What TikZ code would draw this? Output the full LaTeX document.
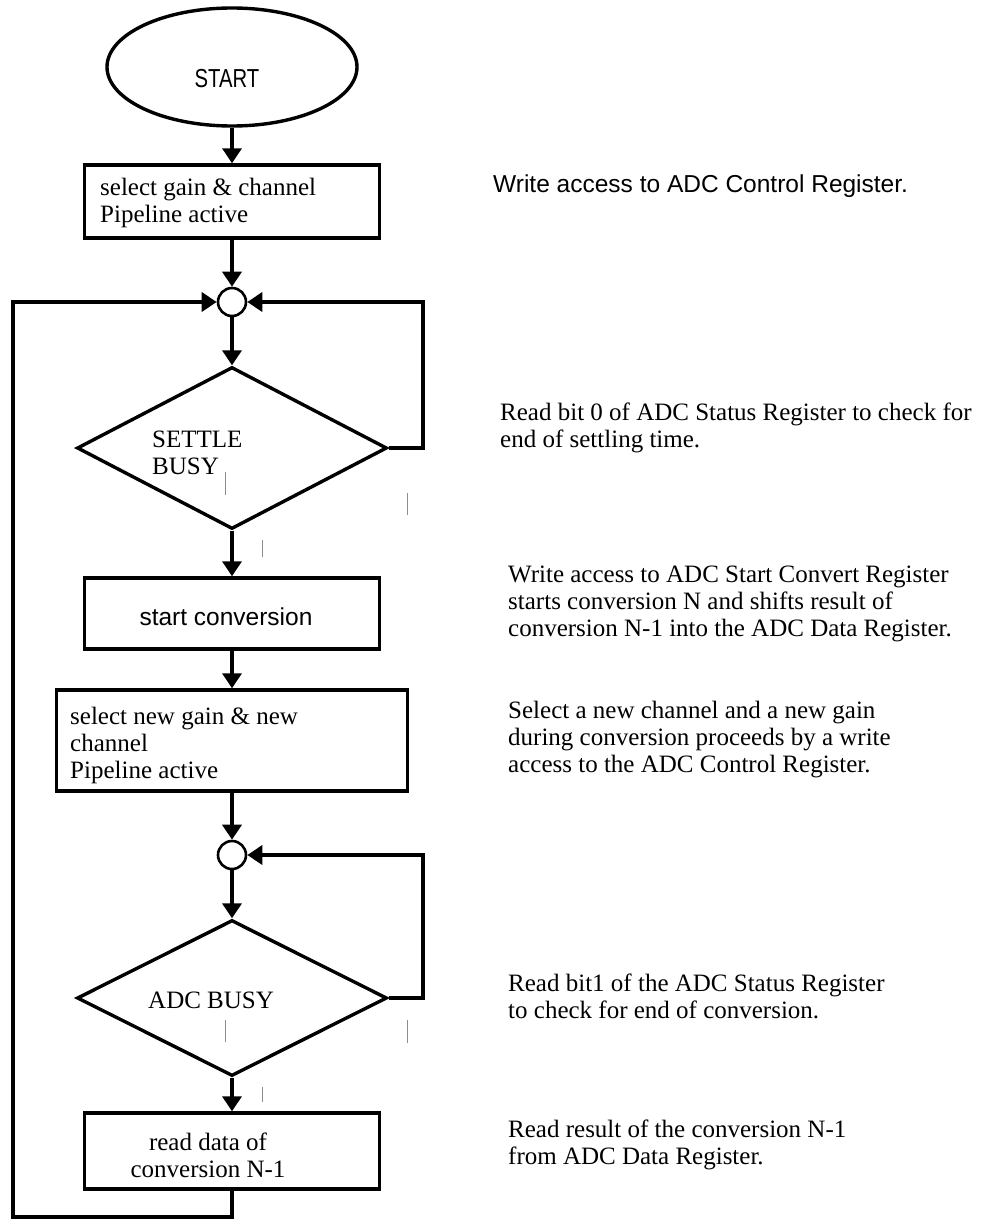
\documentclass[tikz,border=0pt]{standalone}
\usepackage{fontspec}
\setmainfont{Liberation Serif}
\setsansfont{Liberation Sans}
\usetikzlibrary{shapes.geometric,arrows.meta}
\tikzset{
  shp/.style={draw=black, line width=3.4pt, inner sep=0pt},
  boxnode/.style={shp, rectangle},
  dianode/.style={shp, diamond},
  junc/.style={draw=black, line width=2.6pt, circle, inner sep=0pt, minimum size=28pt, fill=white},
  arr/.style={line width=3.4pt, -{Triangle[length=15pt,width=19pt]}},
  txt/.style={inner sep=0pt, font=\fontsize{25}{26.7}\selectfont, align=left},
  stxt/.style={inner sep=0pt, font=\sffamily\fontsize{24.5}{26.5}\selectfont},
  tick/.style={draw=black!45, line width=0.8pt}
}
\begin{document}
\begin{tikzpicture}[x=1pt,y=-1pt]
\useasboundingbox (0,0) rectangle (994,1220);
% shapes
\node[shp, ellipse, minimum width=250pt, minimum height=118pt] (start) at (232,67) {};
\node[stxt, anchor=base, font=\sffamily\fontsize{26}{28}\selectfont, xscale=0.78] (starttxt) at (227,88) {START};
\node[boxnode, minimum width=295pt, minimum height=73pt] (b1) at (232,201.5) {};
\node[txt, anchor=base west] (b1t) at (100,222) {select gain \& channel\\Pipeline active};
\node[junc] (c1) at (232,302) {};
\node[dianode, minimum width=310pt, minimum height=162pt] (d1) at (232,448) {};
\node[txt, anchor=base west] (d1t) at (152,474) {SETTLE\\BUSY};
\node[boxnode, minimum width=295pt, minimum height=71pt] (b2) at (232,613.5) {};
\node[stxt, anchor=base] (b2t) at (226,625) {start conversion};
\node[boxnode, minimum width=351pt, minimum height=101pt] (b3) at (232,740.5) {};
\node[txt, anchor=base west] (b3t) at (70,778) {select new gain \& new\\channel\\Pipeline active};
\node[junc] (c2) at (232,855) {};
\node[dianode, minimum width=310pt, minimum height=156pt] (d2) at (232,998) {};
\node[txt, anchor=base west] (d2t) at (148,1008) {ADC BUSY};
\node[boxnode, minimum width=295pt, minimum height=76pt] (b4) at (232,1151) {};
\node[txt, anchor=base, align=center] (b4t) at (208,1177) {read data of\\conversion N-1};
% connectors
\draw[arr] (start.south) -- (b1.north);
\draw[arr] (b1.south) -- (c1.north);
\draw[arr] (c1.south) -- (d1.north);
\draw[arr] (d1.south) -- (b2.north);
\draw[arr] (b2.south) -- (b3.north);
\draw[arr] (b3.south) -- (c2.north);
\draw[arr] (c2.south) -- (d2.north);
\draw[arr] (d2.south) -- (b4.north);
\coordinate (r1) at (423,448);
\coordinate (r2) at (423,998);
\coordinate (bl) at (13,1217);
\draw[arr, line join=miter] (d1.east) -- (r1) |- (c1.east);
\draw[arr, line join=miter] (d2.east) -- (r2) |- (c2.east);
\draw[arr, line join=miter] (b4.south) |- (bl) |- (c1.west);
% faint ticks
\draw[tick] (225,472) -- (225,495);
\draw[tick] (407,493) -- (407,515);
\draw[tick] (262,540) -- (262,557);
\draw[tick] (225,1020) -- (225,1042);
\draw[tick] (407,1020) -- (407,1043);
\draw[tick] (262,1087) -- (262,1102);
% descriptions
\node[stxt, anchor=base west] (n1) at (493,192) {Write access to ADC Control Register.};
\node[txt, anchor=base west] (n2) at (500,447) {Read bit 0 of ADC Status Register to check for\\end of settling time.};
\node[txt, anchor=base west] (n3) at (508,636) {Write access to ADC Start Convert Register\\starts conversion N and shifts result of\\conversion N-1 into the ADC Data Register.};
\node[txt, anchor=base west] (n4) at (508,772) {Select a new channel and a new gain\\during conversion proceeds by a write\\access to the ADC Control Register.};
\node[txt, anchor=base west] (n5) at (508,1018) {Read bit1 of the ADC Status Register\\to check for end of conversion.};
\node[txt, anchor=base west] (n6) at (508,1164) {Read result of the conversion N-1\\from ADC Data Register.};
\end{tikzpicture}
\end{document}
